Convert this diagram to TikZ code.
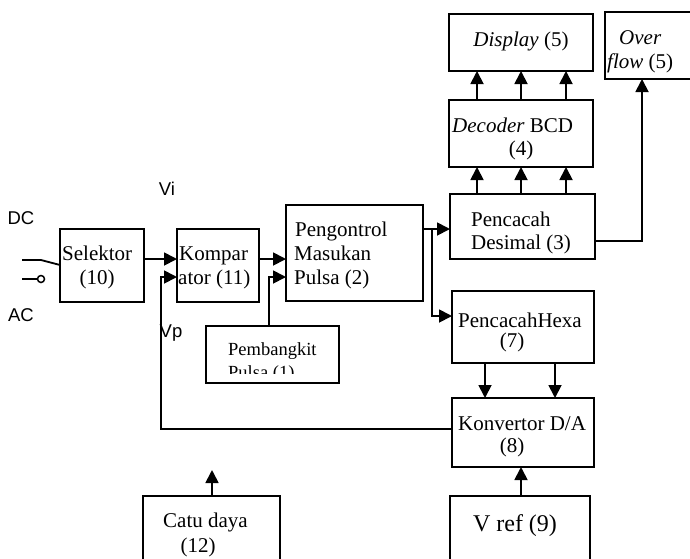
\documentclass[tikz,border=0pt]{standalone}
\usepackage{fontspec}
\setmainfont{Liberation Serif}
\newfontfamily\labelsans{Liberation Sans}
\usetikzlibrary{arrows.meta}
\begin{document}
\begin{tikzpicture}[x=1pt,y=-1pt,
  blk/.style={draw, line width=1.8pt, anchor=north west, inner sep=0pt, outer sep=0pt},
  wire/.style={line width=1.8pt},
  arr/.style={line width=1.8pt, -{Triangle[length=13pt,width=13pt]}},
  txt/.style={anchor=base west, inner sep=0pt, font=\fontsize{21}{24}\selectfont},
  ctxt/.style={anchor=base, inner sep=0pt, font=\fontsize{21}{24}\selectfont},
  stxt/.style={anchor=base west, inner sep=0pt, font=\fontsize{18.5}{22}\selectfont},
  sans/.style={anchor=center, inner sep=0pt, font=\labelsans\fontsize{18.5}{21}\selectfont}]
\useasboundingbox (0,0) rectangle (690,558);
\clip (0,0) rectangle (690,558);

% boxes
\node[blk, minimum width=84pt, minimum height=73pt] (sel) at (60,229) {};
\node[blk, minimum width=82pt, minimum height=73pt] (kom) at (177,229) {};
\node[blk, minimum width=137pt, minimum height=96pt] (pen) at (286,205) {};
\node[blk, minimum width=133pt, minimum height=57pt] (pem) at (206,326) {};
\node[blk, minimum width=145pt, minimum height=65pt] (des) at (450,194) {};
\node[blk, minimum width=142pt, minimum height=72pt] (hex) at (452,291) {};
\node[blk, minimum width=142pt, minimum height=69pt] (kon) at (452,398) {};
\node[blk, minimum width=144pt, minimum height=67pt] (dec) at (449,100) {};
\node[blk, minimum width=144pt, minimum height=57pt] (dis) at (449,14) {};
\node[blk, minimum width=100pt, minimum height=67pt] (ovf) at (605,12) {};
\node[blk, minimum width=137pt, minimum height=80pt] (cat) at (143,496) {};
\node[blk, minimum width=140pt, minimum height=80pt] (vrf) at (450,496) {};

% texts
\node[txt] (tsel1) at (62,260) {Selektor};
\node[ctxt] (tsel2) at (97,284) {(10)};
\node[txt] (tkom1) at (179,260) {Kompar};
\node[txt] (tkom2) at (178,284) {ator (11)};
\node[txt] (tpen1) at (295,236) {Pengontrol};
\node[txt] (tpen2) at (294,260) {Masukan};
\node[txt] (tpen3) at (294,284) {Pulsa (2)};
\node[stxt] (tpem1) at (228,355) {Pembangkit};
\begin{scope}
\clip (200,330) rectangle (340,373);
\node[stxt] (tpem2) at (228,378) {Pulsa (1)};
\end{scope}
\node[txt] (tdes1) at (471,226) {Pencacah};
\node[txt] (tdes2) at (471,249) {Desimal (3)};
\node[txt] (thex1) at (458,327) {PencacahHexa};
\node[ctxt] (thex2) at (512,347) {(7)};
\node[txt] (tkon1) at (458,430) {Konvertor D/A};
\node[ctxt] (tkon2) at (512,452) {(8)};
\node[txt] (tdec1) at (452,132) {\textit{Decoder} BCD};
\node[ctxt] (tdec2) at (521,155) {(4)};
\node[ctxt] (tdis) at (521,46) {\textit{Display} (5)};
\node[txt] (tovf1) at (619,44) {\textit{Over}};
\node[txt] (tovf2) at (607,68) {\textit{flow} (5)};
\node[txt] (tcat1) at (163,527) {Catu daya};
\node[ctxt] (tcat2) at (198,552) {(12)};
\node[anchor=base, inner sep=0pt, font=\fontsize{24}{28}\selectfont] (tvrf) at (515,531) {V ref (9)};

\node[sans] (lvi) at (167,189) {Vi};
\node[sans] (lvp) at (171,333) {Vp};
\node[sans] (ldc) at (21,218) {DC};
\node[sans] (lac) at (21,315) {AC};

% switch
\coordinate (dcin) at (22,260);
\coordinate (pivot) at (41,260);
\coordinate (acin) at (22,279);
\coordinate (acpin) at (41,279);
\draw[wire] (dcin) -- (pivot) -- ([yshift=0.5pt]sel.west);
\draw[wire] (acin) -- ++(15,0);
\draw[line width=1.5pt] (acpin) circle (3.5pt);

% connections
\draw[arr] ([yshift=6.5pt]sel.east) -- ([yshift=6.5pt]kom.west);
\draw[arr] ([yshift=3.5pt]kon.west) -| (161,277) -- ([yshift=-11.5pt]kom.west);
\draw[arr] ([yshift=6.5pt]kom.east) -- ([yshift=-6pt]pen.west);
\draw[arr] ([xshift=-3.5pt]pem.north) |- ([yshift=-24pt]pen.west);
\draw[arr] ([yshift=24pt]pen.east) -- ([yshift=-2.5pt]des.west);
\coordinate (br) at (432,229);
\draw[arr] (br) |- ([yshift=11pt]hex.west);
\foreach \xx in {477,521,566} {
  \draw[arr] (des.north -| \xx,0) -- (dec.south -| \xx,0);
  \draw[arr] (dec.north -| \xx,0) -- (dis.south -| \xx,0);
}
\draw[arr] ([yshift=-14.5pt]des.east) -| (ovf.south -| 642,0);
\foreach \xx in {485,555} {
  \draw[arr] (hex.south -| \xx,0) -- (kon.north -| \xx,0);
}
\draw[arr] (vrf.north -| 521,0) -- (kon.south -| 521,0);
\coordinate (cdtip) at (212,470);
\draw[arr] (cat.north -| cdtip) -- (cdtip);
\end{tikzpicture}
\end{document}
